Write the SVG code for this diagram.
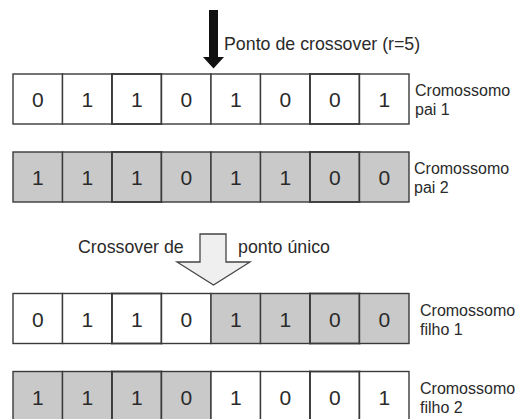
<svg xmlns="http://www.w3.org/2000/svg" width="515" height="419" viewBox="0 0 515 419">
  <style>
    .cell { fill: #ffffff; stroke: #3a3a3a; stroke-width: 1.4; }
    .cell.g { fill: #c9c9c9; }
    .cell.b { stroke-width: 1.9; }
    .bit { font-family: "Liberation Sans", Arial, sans-serif; font-size: 21px; fill: #2a2a2a; text-anchor: middle; }
    .lbl { font-family: "Liberation Sans", Arial, sans-serif; font-size: 16px; fill: #2a2a2a; }
    .cap { font-family: "Liberation Sans", Arial, sans-serif; font-size: 17.8px; fill: #2a2a2a; }
  </style>
  <rect width="515" height="419" fill="#ffffff"/>

  <!-- parent 1 -->
  <g id="pai1" transform="translate(0,74)">
    <rect class="cell" x="13" y="0" width="49.5" height="50"/>
    <rect class="cell" x="62.5" y="0" width="49.5" height="50"/>
    <rect class="cell b" x="112" y="0" width="49.5" height="50"/>
    <rect class="cell" x="161.5" y="0" width="49.5" height="50"/>
    <rect class="cell" x="211" y="0" width="49.5" height="50"/>
    <rect class="cell" x="260.5" y="0" width="49.5" height="50"/>
    <rect class="cell b" x="310" y="0" width="49.5" height="50"/>
    <rect class="cell" x="359.5" y="0" width="49.5" height="50"/>
    <text class="bit" x="37.75" y="33">0</text>
    <text class="bit" x="87.25" y="33">1</text>
    <text class="bit" x="136.75" y="33">1</text>
    <text class="bit" x="186.25" y="33">0</text>
    <text class="bit" x="235.75" y="33">1</text>
    <text class="bit" x="285.25" y="33">0</text>
    <text class="bit" x="334.75" y="33">0</text>
    <text class="bit" x="384.25" y="33">1</text>
    <text class="lbl" x="415" y="22">Cromossomo</text>
    <text class="lbl" x="415" y="41">pai 1</text>
  </g>

  <!-- parent 2 -->
  <g id="pai2" transform="translate(0,152)">
    <rect class="cell g" x="13" y="0" width="49.5" height="50"/>
    <rect class="cell g" x="62.5" y="0" width="49.5" height="50"/>
    <rect class="cell g b" x="112" y="0" width="49.5" height="50"/>
    <rect class="cell g" x="161.5" y="0" width="49.5" height="50"/>
    <rect class="cell g" x="211" y="0" width="49.5" height="50"/>
    <rect class="cell g" x="260.5" y="0" width="49.5" height="50"/>
    <rect class="cell g b" x="310" y="0" width="49.5" height="50"/>
    <rect class="cell g" x="359.5" y="0" width="49.5" height="50"/>
    <text class="bit" x="37.75" y="33">1</text>
    <text class="bit" x="87.25" y="33">1</text>
    <text class="bit" x="136.75" y="33">1</text>
    <text class="bit" x="186.25" y="33">0</text>
    <text class="bit" x="235.75" y="33">1</text>
    <text class="bit" x="285.25" y="33">1</text>
    <text class="bit" x="334.75" y="33">0</text>
    <text class="bit" x="384.25" y="33">0</text>
    <text class="lbl" x="414" y="22">Cromossomo</text>
    <text class="lbl" x="414" y="41">pai 2</text>
  </g>

  <!-- child 1 -->
  <g id="filho1" transform="translate(0,293.5)">
    <rect class="cell" x="13" y="0" width="49.5" height="50"/>
    <rect class="cell" x="62.5" y="0" width="49.5" height="50"/>
    <rect class="cell b" x="112" y="0" width="49.5" height="50"/>
    <rect class="cell" x="161.5" y="0" width="49.5" height="50"/>
    <rect class="cell g" x="211" y="0" width="49.5" height="50"/>
    <rect class="cell g" x="260.5" y="0" width="49.5" height="50"/>
    <rect class="cell g b" x="310" y="0" width="49.5" height="50"/>
    <rect class="cell g" x="359.5" y="0" width="49.5" height="50"/>
    <text class="bit" x="37.75" y="33">0</text>
    <text class="bit" x="87.25" y="33">1</text>
    <text class="bit" x="136.75" y="33">1</text>
    <text class="bit" x="186.25" y="33">0</text>
    <text class="bit" x="235.75" y="33">1</text>
    <text class="bit" x="285.25" y="33">1</text>
    <text class="bit" x="334.75" y="33">0</text>
    <text class="bit" x="384.25" y="33">0</text>
    <text class="lbl" x="420" y="22">Cromossomo</text>
    <text class="lbl" x="420" y="41">filho 1</text>
  </g>

  <!-- child 2 -->
  <g id="filho2" transform="translate(0,371.5)">
    <rect class="cell g" x="13" y="0" width="49.5" height="50"/>
    <rect class="cell g" x="62.5" y="0" width="49.5" height="50"/>
    <rect class="cell g b" x="112" y="0" width="49.5" height="50"/>
    <rect class="cell g" x="161.5" y="0" width="49.5" height="50"/>
    <rect class="cell" x="211" y="0" width="49.5" height="50"/>
    <rect class="cell" x="260.5" y="0" width="49.5" height="50"/>
    <rect class="cell b" x="310" y="0" width="49.5" height="50"/>
    <rect class="cell" x="359.5" y="0" width="49.5" height="50"/>
    <text class="bit" x="37.75" y="33">1</text>
    <text class="bit" x="87.25" y="33">1</text>
    <text class="bit" x="136.75" y="33">1</text>
    <text class="bit" x="186.25" y="33">0</text>
    <text class="bit" x="235.75" y="33">1</text>
    <text class="bit" x="285.25" y="33">0</text>
    <text class="bit" x="334.75" y="33">0</text>
    <text class="bit" x="384.25" y="33">1</text>
    <text class="lbl" x="420" y="22">Cromossomo</text>
    <text class="lbl" x="420" y="41">filho 2</text>
  </g>

  <g id="connectors">
    <!-- crossover point marker -->
    <polygon points="209,10 218,10 218,57 224,57 213.5,68.5 203,57 209,57" fill="#111111"/>
    <!-- single-point crossover block arrow -->
    <polygon points="200,234 226,234 226,262 250,262 213.5,285 177,262 200,262" fill="#efefef" stroke="#444444" stroke-width="1.3" stroke-linejoin="miter"/>
  </g>

  <g id="captions">
    <text class="cap" x="224" y="50">Ponto de crossover (r=5)</text>
    <text class="cap" x="78" y="253">Crossover de</text>
    <text class="cap" x="238" y="253">ponto único</text>
  </g>
</svg>
